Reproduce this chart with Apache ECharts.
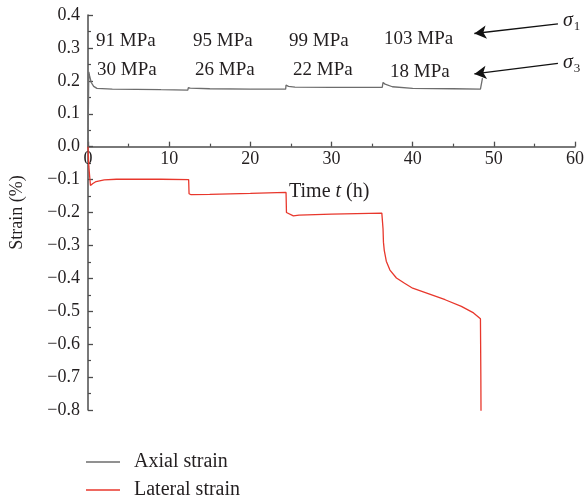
<!DOCTYPE html>
<html>
<head>
<meta charset="utf-8">
<script src="https://cdn.jsdelivr.net/npm/echarts@6/dist/echarts.min.js"></script>
<style>
  html, body { margin: 0; padding: 0; background: #fff; }
  #chart { width: 587px; height: 502px; }
</style>
</head>
<body>
<div id="chart"></div>
<script>
// axial strain (grey)
var axialTime = [0, 0.05, 0.1, 0.2, 0.4, 0.7, 1.1, 3, 6, 9, 12.3, 12.35, 12.6, 15, 20, 24.35, 24.4, 24.7, 25.5, 30, 36.25, 36.35, 36.6, 37.5, 40, 45, 48.35, 48.4, 48.6];
var axialStrain = [0, 0.12, 0.227, 0.215, 0.195, 0.183, 0.177, 0.175, 0.174, 0.173, 0.172, 0.179, 0.178, 0.176, 0.175, 0.175, 0.187, 0.183, 0.181, 0.18, 0.18, 0.195, 0.19, 0.182, 0.177, 0.176, 0.175, 0.175, 0.208];

// lateral strain (red)
var lateralTime = [0, 0.1, 0.3, 0.6, 1, 2, 3.5, 6, 9, 12.4, 12.45, 12.7, 15, 20, 24.4, 24.45, 25.3, 26, 30, 36.2, 36.3, 36.35, 36.4, 36.5, 36.75, 37.2, 38, 39, 40, 42, 44, 46, 47.5, 48.35, 48.4, 48.42];
var lateralStrain = [0, -0.06, -0.118, -0.112, -0.106, -0.101, -0.099, -0.099, -0.099, -0.1, -0.143, -0.146, -0.145, -0.142, -0.139, -0.2, -0.21, -0.208, -0.205, -0.202, -0.204, -0.25, -0.29, -0.315, -0.348, -0.375, -0.399, -0.415, -0.43, -0.447, -0.465, -0.485, -0.505, -0.523, -0.7, -0.805];

var sigma1Labels = ['91 MPa', '95 MPa', '99 MPa', '103 MPa'];
var sigma3Labels = ['30 MPa', '26 MPa', '22 MPa', '18 MPa'];

// arrows: [tail, head] in data coords
var arrowSigma1 = [[57.9, 0.373], [47.6, 0.344]];
var arrowSigma3 = [[57.9, 0.253], [47.6, 0.221]];

var serif = '"Liberation Serif", "DejaVu Serif", serif';
var ink = '#231f20';

function zip(xs, ys) {
  return xs.map(function (x, i) { return [x, ys[i]]; });
}

var chart = echarts.init(document.getElementById('chart'));

// stress labels along the top
var s1x = [96, 193, 289, 384];
var s3x = [97, 195, 293, 390];
var texts = [];
sigma1Labels.forEach(function (t, i) {
  texts.push({ type: 'text', left: s1x[i], top: i == 3 ? 30 : 32,
    style: { text: t, font: '19px ' + serif, fill: ink } });
});
sigma3Labels.forEach(function (t, i) {
  texts.push({ type: 'text', left: s3x[i], top: i == 3 ? 63 : 61,
    style: { text: t, font: '19px ' + serif, fill: ink } });
});
texts.push({ type: 'text', left: 289, top: 182,
  style: { text: '{n|Time }{i|t}{n| (h)}', rich: {
    n: { fontFamily: serif, fontSize: 20, fill: ink },
    i: { fontFamily: serif, fontSize: 20, fontStyle: 'italic', fill: ink } } } });
[['1', 8], ['3', 50]].forEach(function (s) {
  texts.push({ type: 'text', left: 563, top: s[1],
    style: { text: '{s|σ}{b|' + s[0] + '}', rich: {
      s: { fontFamily: serif, fontSize: 20, fontStyle: 'italic', fill: ink, lineHeight: 24 },
      b: { fontFamily: serif, fontSize: 13, fill: ink, padding: [12, 0, 0, 1], lineHeight: 24 } } } });
});

var gridTop = 15, gridBottom = 92;
var yMin = -0.8, yMax = 0.4;
// push the x axis up so it sits on strain = 0
var plotH = 502 - gridTop - gridBottom;
var zeroOffset = -plotH * (0 - yMin) / (yMax - yMin);

var option = {
  animation: false,
  grid: { left: 86, right: 10, top: gridTop, bottom: gridBottom },
  legend: {
    left: 86, top: 452, orient: 'vertical', padding: 0,
    itemWidth: 34, itemHeight: 2, itemGap: 8,
    icon: 'path://M0,0H34V1.3H0Z',
    textStyle: { fontFamily: serif, fontSize: 20, color: ink, lineHeight: 20, padding: [0, 0, 0, 9] },
    data: ['Axial strain', 'Lateral strain']
  },
  xAxis: {
    type: 'value', min: 0, max: 60, interval: 10, offset: zeroOffset,
    axisLine: { onZero: false, lineStyle: { color: '#4d4d4d', width: 1.5 } },
    axisTick: { inside: true, length: 5, lineStyle: { color: '#4d4d4d', width: 1.3 } },
    minorTick: { show: true, splitNumber: 2, length: 3, lineStyle: { color: '#4d4d4d', width: 1.2 } },
    splitLine: { show: false },
    axisLabel: { fontFamily: serif, fontSize: 18, color: ink, margin: 4 }
  },
  yAxis: {
    type: 'value', min: yMin, max: yMax, interval: 0.1,
    name: 'Strain (%)', nameLocation: 'middle', nameGap: 62,
    nameTextStyle: { fontFamily: serif, fontSize: 18, color: ink },
    axisLine: { show: true, lineStyle: { color: '#4d4d4d', width: 1.5 } },
    axisTick: { inside: true, length: 5, lineStyle: { color: '#4d4d4d', width: 1.3 } },
    minorTick: { show: true, splitNumber: 2, length: 3, lineStyle: { color: '#4d4d4d', width: 1.2 } },
    splitLine: { show: false },
    axisLabel: {
      fontFamily: serif, fontSize: 18, color: ink, margin: 8,
      formatter: function (v) { return v.toFixed(1).replace('-', '\u2212'); }
    }
  },
  graphic: texts,
  series: [
    {
      name: 'Axial strain', type: 'line', symbol: 'none', data: zip(axialTime, axialStrain),
      lineStyle: { color: '#6d6d6d', width: 1.3 }, itemStyle: { color: '#6d6d6d' },
      markLine: {
        silent: true, symbol: ['none', 'arrow'], symbolSize: [10, 12],
        label: { show: false },
        lineStyle: { color: '#111', width: 1.4, type: 'solid' },
        data: [
          [{ coord: arrowSigma1[0] }, { coord: arrowSigma1[1] }],
          [{ coord: arrowSigma3[0] }, { coord: arrowSigma3[1] }]
        ]
      }
    },
    {
      name: 'Lateral strain', type: 'line', symbol: 'none', data: zip(lateralTime, lateralStrain),
      lineStyle: { color: '#e8372c', width: 1.3 }, itemStyle: { color: '#e8372c' }
    }
  ]
};

chart.setOption(option);
</script>
</body>
</html>
